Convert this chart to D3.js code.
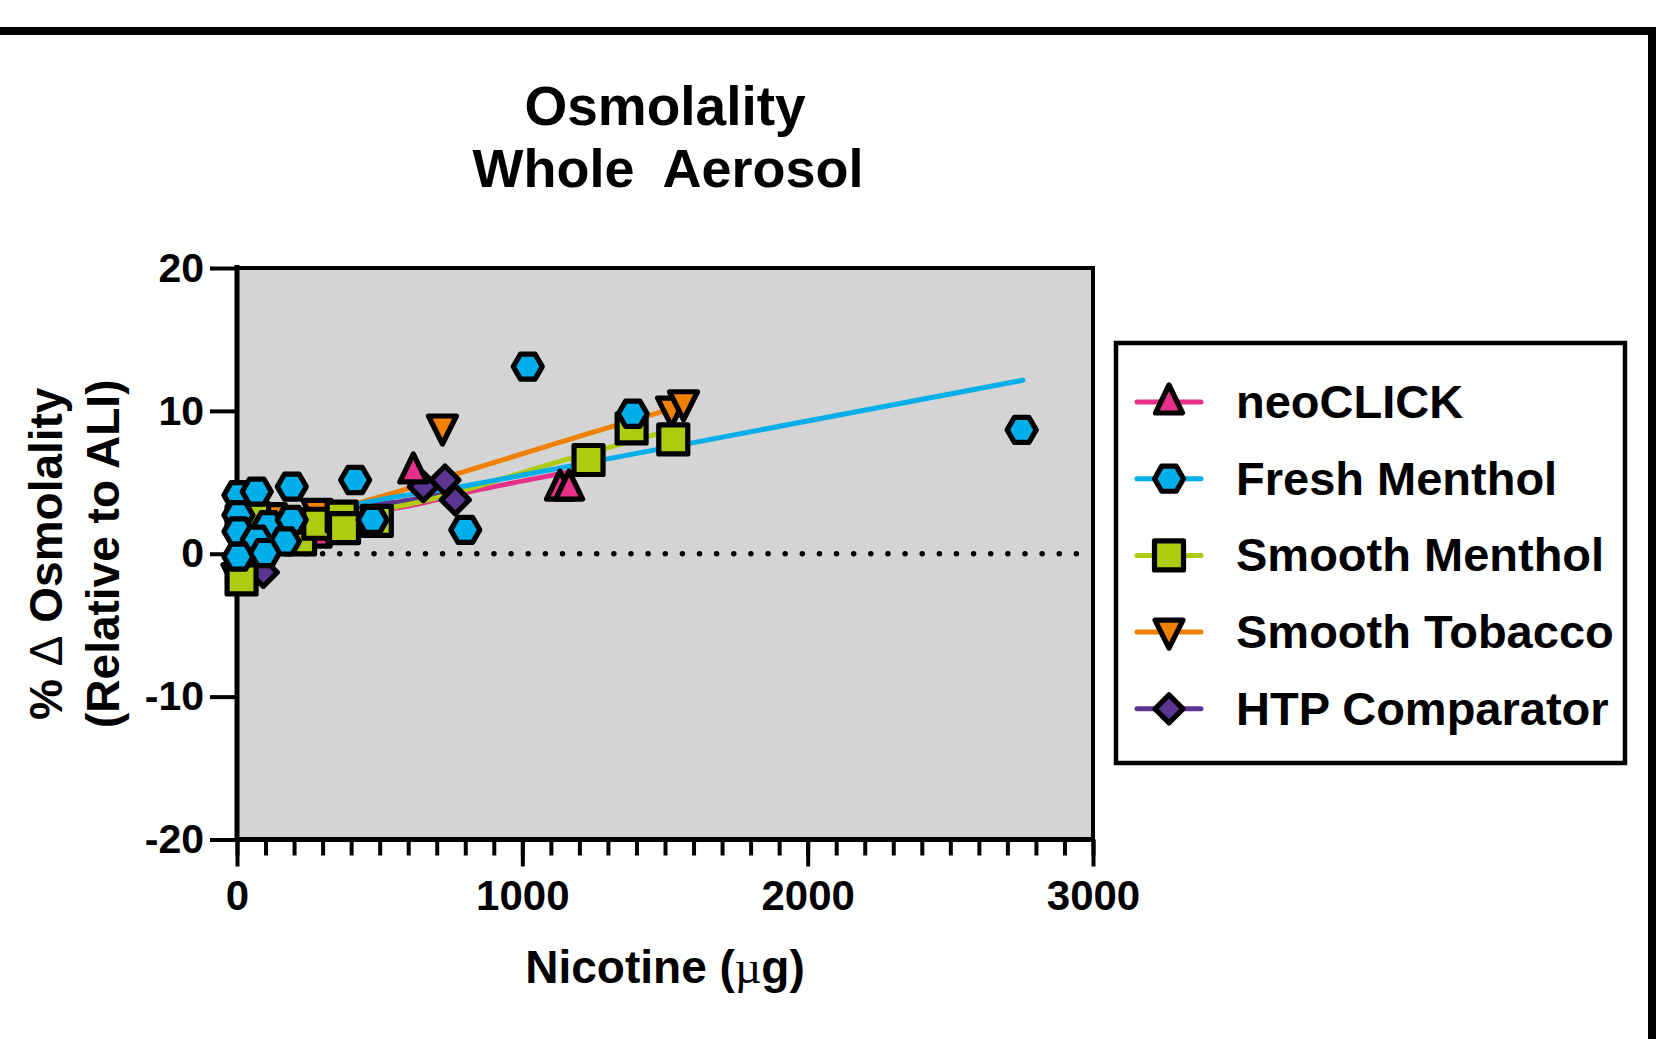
<!DOCTYPE html>
<html>
<head>
<meta charset="utf-8">
<script src="https://cdn.jsdelivr.net/npm/d3@7"></script>
<style>
  body { margin: 0; background: #fff; }
  svg text { font-family: "Liberation Sans", Arial, sans-serif; font-weight: bold; fill: #000; }
</style>
</head>
<body>
<svg id="chart" width="1660" height="1039"></svg>
<script>
// values: [nicotine µg, % change]
const seriesNames = ["neoCLICK", "Fresh Menthol", "Smooth Menthol", "Smooth Tobacco", "HTP Comparator"];
const seriesColors = ["#e6308a", "#00aeea", "#afcb10", "#f08000", "#5c3592"];
const seriesSymbols = ["triUp", "hex", "square", "triDown", "diamond"];

const neoClickPoints = [[279, 1.3], [618, 5.8], [1132, 4.6], [1164, 4.6]];
const freshMentholPoints = [[5, 4.1], [69, 4.35], [192, 4.7], [414, 5.16], [5, 2.7], [5, 1.56], [110, 2.0],
  [192, 2.37], [69, 0.98], [168, 0.86], [5, -0.2], [98, 0.05], [475, 2.37], [800, 1.67], [1019, 13.1],
  [1387, 9.8], [2750, 8.67]];
const smoothMentholPoints = [[16, -1.8], [16, 2.3], [60, 2.5], [221, 1.0], [285, 2.1], [367, 2.6], [375, 1.8],
  [490, 2.3], [1232, 6.56], [1383, 8.77], [1529, 8.0]];
const smoothTobaccoPoints = [[0, -1.6], [120, 2.6], [280, 2.9], [720, 8.8], [1523, 10.05], [1565, 10.5]];
const htpPoints = [[60, -0.9], [92, -1.3], [653, 4.7], [729, 5.16], [765, 3.77]];

// fitted curves
const neoClickFit = [[0, -1.2], [100, 0.8], [200, 2.0], [431, 2.9], [571, 3.24], [817, 4.35], [1109, 5.51], [1164, 5.72]];
const freshMentholFit = [[0, -1.5], [100, 1.0], [200, 2.3], [431, 3.5], [817, 4.81], [1156, 6.1], [2754, 12.14]];
const smoothMentholFit = [[0, -1.8], [100, 0.7], [200, 2.0], [431, 2.9], [548, 3.25], [1167, 6.68], [1529, 8.7]];
const smoothTobaccoFit = [[0, -1.7], [100, 0.9], [200, 2.3], [431, 3.58], [1272, 8.65], [1565, 10.4]];
const htpFit = [[0, -1.5], [100, 0.7], [200, 2.0], [431, 3.3], [571, 3.65], [765, 4.3]];

const xTicks = [0, 1000, 2000, 3000];
const xMinorStep = 100;
const yTicks = [-20, -10, 0, 10, 20];

const allPoints = [neoClickPoints, freshMentholPoints, smoothMentholPoints, smoothTobaccoPoints, htpPoints];
const allFits = [neoClickFit, freshMentholFit, smoothMentholFit, smoothTobaccoFit, htpFit];

const svg = d3.select("#chart");
const pLeft = 237, pRight = 1093, pTop = 268, pBottom = 839.5;
const x = d3.scaleLinear().domain([0, 3000]).range([pLeft, pRight]);
const y = d3.scaleLinear().domain([-20, 20]).range([pBottom, pTop]);

// outer frame (top and right only are visible)
svg.append("path")
  .attr("d", `M0,31 H1652 V1039`)
  .attr("fill", "none").attr("stroke", "#000").attr("stroke-width", 8);

// titles
svg.append("text").attr("x", 665).attr("y", 125).attr("text-anchor", "middle")
  .style("font-size", "55px").text("Osmolality");
svg.append("text").attr("x", 668).attr("y", 187).attr("text-anchor", "middle")
  .style("font-size", "54px").style("white-space", "pre").text("Whole  Aerosol");

// plot background
svg.append("rect").attr("x", pLeft).attr("y", pTop).attr("width", pRight - pLeft).attr("height", pBottom - pTop)
  .attr("fill", "#d4d4d4");

// frame top/right
svg.append("path").attr("d", `M${pLeft},${pTop} H${pRight} V${pBottom}`)
  .attr("fill", "none").attr("stroke", "#000").attr("stroke-width", 4);

// axes
const xAxis = svg.append("g").attr("transform", `translate(0,${pBottom})`);
xAxis.call(d3.axisBottom(x).tickValues(d3.range(0, 3001, xMinorStep)).tickSize(16).tickFormat(""));
xAxis.call(g => g.selectAll(".tick line").attr("stroke-width", 4));
xAxis.call(g => g.select(".domain").remove());
const xMajor = svg.append("g").attr("transform", `translate(0,${pBottom})`)
  .call(d3.axisBottom(x).tickValues(xTicks).tickSize(27).tickPadding(14).tickFormat(d => String(d)));
xMajor.select(".domain").remove();
xMajor.selectAll(".tick line").attr("stroke-width", 4);
xMajor.selectAll("text").style("font-size", "42px").attr("dy", "0.71em");
svg.append("line").attr("x1", pLeft).attr("x2", pRight + 2).attr("y1", pBottom).attr("y2", pBottom)
  .attr("stroke", "#000").attr("stroke-width", 5);

const yAxis = svg.append("g").attr("transform", `translate(${pLeft},0)`)
  .call(d3.axisLeft(y).tickValues(yTicks).tickSize(27).tickPadding(6).tickFormat(d => String(d)));
yAxis.select(".domain").remove();
yAxis.selectAll(".tick line").attr("stroke-width", 4);
yAxis.selectAll("text").style("font-size", "41px");
svg.append("line").attr("x1", pLeft).attr("x2", pLeft).attr("y1", pTop - 3).attr("y2", pBottom + 2)
  .attr("stroke", "#000").attr("stroke-width", 5);

// axis titles
const xt = svg.append("text").attr("x", (pLeft + pRight) / 2).attr("y", 983).attr("text-anchor", "middle")
  .style("font-size", "46px");
xt.append("tspan").text("Nicotine (");
xt.append("tspan").style("font-weight", "normal").style("font-family", "'Liberation Serif', serif").text("µ");
xt.append("tspan").text("g)");

const yt = svg.append("g").attr("transform", `translate(0,${(pTop + pBottom) / 2}) rotate(-90)`);
const yl1 = yt.append("text").attr("x", 0).attr("y", 62).attr("text-anchor", "middle").style("font-size", "46px");
yl1.append("tspan").text("% ");
yl1.append("tspan").style("font-weight", "normal").text("Δ");
yl1.append("tspan").text(" Osmolality");
yt.append("text").attr("x", 0).attr("y", 119).attr("text-anchor", "middle").style("font-size", "46px")
  .text("(Relative to ALI)");

// dotted zero line
svg.append("line").attr("x1", x(0)).attr("x2", x(3000)).attr("y1", y(0)).attr("y2", y(0))
  .attr("stroke", "#000").attr("stroke-width", 5.5).attr("stroke-linecap", "round")
  .attr("stroke-dasharray", "0 17.13");

// symbols
const symbolPath = {
  hex: (() => { const r = 14.5; return d3.range(6).map(i => {
    const a = i * Math.PI / 3; return [r * Math.cos(a), r * Math.sin(a)]; }); })(),
  square: [[-14.5, -14.5], [14.5, -14.5], [14.5, 14.5], [-14.5, 14.5]],
  triUp: [[0, -17], [13.5, 11], [-13.5, 11]],
  triDown: [[-14, -12], [14, -12], [0, 16]],
  diamond: [[0, -14], [14, 0], [0, 14], [-14, 0]]
};
const symbolD = s => "M" + symbolPath[s].map(p => p.join(",")).join("L") + "Z";

// fit lines, then markers; stacking order as seen in the picture
const line = d3.line().x(d => x(d[0])).y(d => y(d[1])).curve(d3.curveMonotoneX);
const order = [4, 0, 3, 2, 1];
order.forEach(i => {
  svg.append("path").datum(allFits[i]).attr("d", line)
    .attr("fill", "none").attr("stroke", seriesColors[i]).attr("stroke-width", 5)
    .attr("stroke-linecap", "round");
});

order.forEach(i => {
  svg.append("g").selectAll("path").data(allPoints[i]).join("path")
    .attr("transform", d => `translate(${x(d[0])},${y(d[1])})`)
    .attr("d", symbolD(seriesSymbols[i]))
    .attr("fill", seriesColors[i]).attr("stroke", "#000").attr("stroke-width", 5.2)
    .attr("stroke-linejoin", "round");
});

// legend
svg.append("rect").attr("x", 1116).attr("y", 343).attr("width", 509).attr("height", 420)
  .attr("fill", "#fff").attr("stroke", "#000").attr("stroke-width", 4.5);
const legend = svg.append("g").selectAll("g").data(seriesNames).join("g")
  .attr("transform", (d, i) => `translate(0,${402 + i * 76.7})`);
legend.append("line").attr("x1", 1137).attr("x2", 1201).attr("y1", 0).attr("y2", 0)
  .attr("stroke", (d, i) => seriesColors[i]).attr("stroke-width", 5).attr("stroke-linecap", "round");
legend.append("path").attr("transform", "translate(1169,0)")
  .attr("d", (d, i) => symbolD(seriesSymbols[i]))
  .attr("fill", (d, i) => seriesColors[i]).attr("stroke", "#000").attr("stroke-width", 5.2)
  .attr("stroke-linejoin", "round");
legend.append("text").attr("x", 1236).attr("y", 16).style("font-size", "47px").text(d => d);
</script>
</body>
</html>
